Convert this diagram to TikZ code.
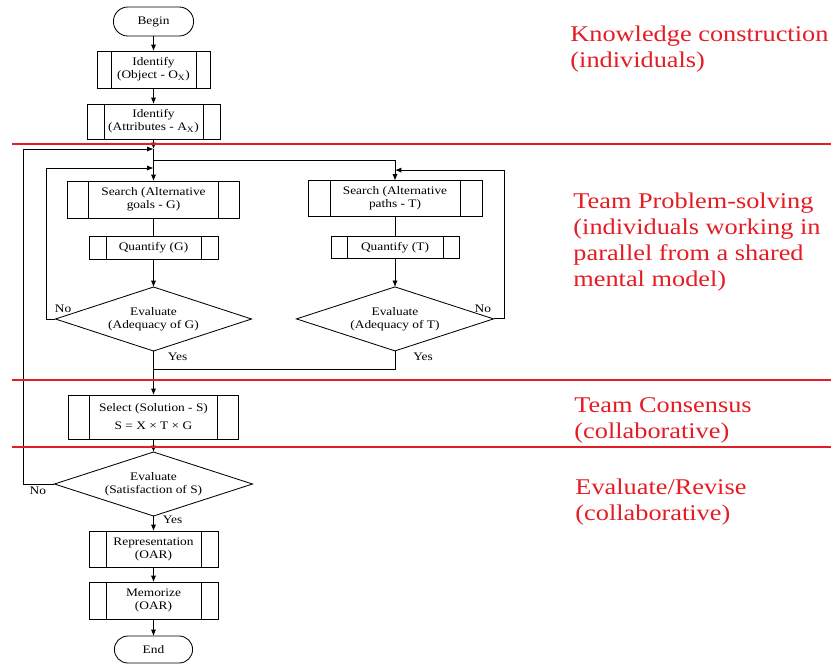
\documentclass[tikz,border=0pt]{standalone}
\usepackage{fontspec}
\setmainfont{Liberation Serif}[FakeStretch=1.16]
\newfontfamily\zonefont{Liberation Serif}[FakeStretch=1.17]
\usepackage{tikz}
\usetikzlibrary{arrows.meta,positioning,shapes.geometric,shapes.misc}
\definecolor{zonered}{RGB}{228,28,36}

\begin{document}
\begin{tikzpicture}[
    x=0.25mm, y=0.25mm,
    line width=0.6pt,
    font=\fontsize{8.2}{9.3}\selectfont,
    sub/.style={draw, align=center, inner sep=1pt, outer sep=0pt,
                path picture={\draw ([xshift=#1]path picture bounding box.north west) -- ([xshift=#1]path picture bounding box.south west)
                                    ([xshift=-#1]path picture bounding box.north east) -- ([xshift=-#1]path picture bounding box.south east);}},
    sub/.default=4.25mm,
    term/.style={draw, rounded rectangle, minimum width=20.75mm, minimum height=7.25mm, inner sep=1pt, outer sep=0pt},
    decide/.style={draw, diamond, aspect=3.2, align=center, inner sep=0pt, outer sep=0pt, minimum width=49mm, minimum height=16mm},
    flow/.style={-{Latex[length=1.6mm, width=1.3mm]}},
    lbl/.style={inner sep=0pt},
    zone/.style={draw=zonered, line width=0.8pt},
    zonetext/.style={text=zonered, align=left, anchor=north west, inner sep=0pt,
                     font=\zonefont\fontsize{16}{18.4}\selectfont}
  ]
    \useasboundingbox (0,0) rectangle (831,-664);
    \node[term] (start) at (153.5,-21.5) {Begin};
    \node[sub=3.5mm, minimum width=28.25mm, minimum height=9.25mm, below=3.75mm of start] (obj) {Identify\\(Object - O\textsubscript{X})};
    \node[sub, minimum width=33.25mm, minimum height=8.75mm, below=4mm of obj] (attr) {Identify\\(Attributes - A\textsubscript{X})};
    \node[sub=5.25mm, minimum width=43mm, minimum height=9.25mm, below=10.5mm of attr] (srchG) {Search (Alternative\\goals - G)};
    \node[sub, minimum width=32.25mm, minimum height=5.75mm, below=4.5mm of srchG] (quantG) {Quantify (G)};
    \node[decide, below=7mm of quantG] (evalG) {Evaluate\\(Adequacy of G)};
    \node[sub=5.25mm, minimum width=42.5mm, minimum height=11mm, below=11mm of evalG] (select) {Select (Solution - S)\\[3.5pt]S = X × T × G};
    \node[decide, minimum width=49.5mm, below=3.25mm of select] (evalS) {Evaluate\\(Satisfaction of S)};
    \node[sub, minimum width=32.25mm, minimum height=9mm, below=3.75mm of evalS] (repr) {Representation\\(OAR)};
    \node[sub, minimum width=32.25mm, minimum height=9.25mm, below=3.75mm of repr] (memo) {Memorize\\(OAR)};
    \node[term, minimum width=20.25mm, minimum height=6.75mm, below=4.25mm of memo] (stop) {End};

    \node[sub=5.5mm, minimum width=43.5mm, minimum height=9mm] (srchT) at (395,-198.5) {Search (Alternative\\paths - T)};
    \node[sub=4mm, minimum width=32mm, minimum height=5.5mm, below=5.1mm of srchT] (quantT) {Quantify (T)};
    \node[decide, minimum width=49.25mm, below=7mm of quantT] (evalT) {Evaluate\\(Adequacy of T)};

    \coordinate (m1) at ([yshift=-2.5mm]attr.south);
    \coordinate (m2) at ([yshift=-5.25mm]attr.south);
    \coordinate (m3) at ([yshift=-7.25mm]attr.south);
    \coordinate (m4) at ([yshift=-4.5mm]evalG.south);
    \coordinate (m5) at ([yshift=2.6mm]srchT.north);

    \draw[flow] (start) -- (obj);
    \draw[flow] (obj) -- (attr);
    \draw[flow] (attr) -- (m1);
    \draw (m1) -- (m2);
    \draw[flow] (m2) -- (srchG);
    \draw[flow] (m2) -| (srchT);
    \draw (srchG) -- (quantG);
    \draw (srchT) -- (quantT);
    \draw[flow] (quantG) -- (evalG);
    \draw[flow] (quantT) -- (evalT);
    \draw[flow] (evalG.west) -- ++(-2.25mm,0) |- (m3);
    \draw[flow] (evalT.east) -- ++(2.75mm,0) |- (m5);
    \draw (evalT) |- (m4);
    \draw[flow] (evalG) -- (select);
    \draw[flow] (select) -- (evalS);
    \draw[flow] (evalS.west) -- ++(-7.75mm,0) |- (m1);
    \draw[flow] (evalS) -- (repr);
    \draw[flow] (repr) -- (memo);
    \draw[flow] (memo) -- (stop);

    \node[lbl, anchor=south west] (noG) at ([xshift=-0.25mm, yshift=1.5mm]evalG.west) {No};
    \node[lbl, anchor=north west] (yesG) at ([xshift=3.5mm, yshift=-0.5mm]evalG.south) {Yes};
    \node[lbl, anchor=south east] (noT) at ([xshift=-0.5mm, yshift=1.5mm]evalT.east) {No};
    \node[lbl, anchor=north west] (yesT) at ([xshift=4.5mm, yshift=-0.5mm]evalT.south) {Yes};
    \node[lbl, anchor=north east] (noS) at ([xshift=-2mm, yshift=-0.75mm]evalS.west) {No};
    \node[lbl, anchor=north west] (yesS) at ([xshift=2.25mm]evalS.south) {Yes};

    \draw[zone] (12,-144) -- (831,-144);
    \draw[zone] (12,-380) -- (831,-380);
    \draw[zone] (12,-447) -- (831,-447);
    \node[zonetext] (kc) at (570,-25.5) {Knowledge construction\\(individuals)};
    \node[zonetext] (tps) at (573,-192.5) {Team Problem-solving\\(individuals working in\\parallel from a shared\\mental model)};
    \node[zonetext] (tc) at (574,-397.5) {Team Consensus\\(collaborative)};
    \node[zonetext] (er) at (575,-478.5) {Evaluate/Revise\\(collaborative)};
  \end{tikzpicture}
\end{document}
